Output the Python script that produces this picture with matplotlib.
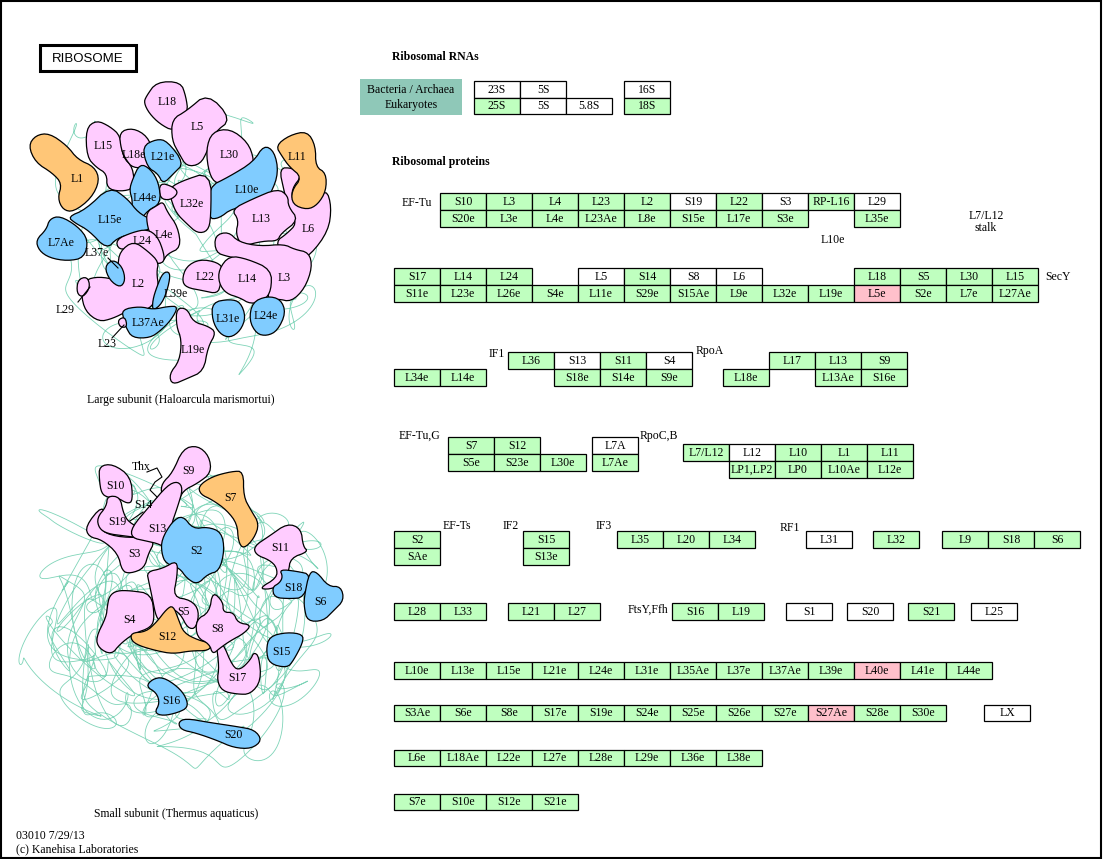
import numpy as np
import matplotlib.pyplot as plt
from matplotlib.patches import Rectangle, Polygon

plt.rcParams['font.family'] = ['Liberation Serif', 'DejaVu Serif']

GREEN = '#bfffbf'
PINK = '#ffc0cb'
FILL = {'g': GREEN, 'w': 'white', 'p': PINK}
BLOB = {'pk': '#ffccff', 'bl': '#80ccff', 'or': '#ffc677'}
TANGLE = '#7fd4b8'

# ---- gene boxes: labels and state (g = green, w = white, p = pink, - = none)
rna_top = ['23S', '5S']
rna_top_st = 'ww'
rna_bot = ['25S', '5S', '5.8S']
rna_bot_st = 'gww'
rna_16s = ['16S']
rna_18s = ['18S']

eftu_top = ['S10', 'L3', 'L4', 'L23', 'L2', 'S19', 'L22', 'S3', 'RP-L16', 'L29']
eftu_top_st = 'gggggwgwgw'
eftu_bot = ['S20e', 'L3e', 'L4e', 'L23Ae', 'L8e', 'S15e', 'L17e', 'S3e', '', 'L35e']
eftu_bot_st = 'gggggggg-g'

secy_top = ['S17', 'L14', 'L24', '', 'L5', 'S14', 'S8', 'L6', '', '', 'L18', 'S5', 'L30', 'L15']
secy_top_st = 'ggg-wgww--gggg'
secy_bot = ['S11e', 'L23e', 'L26e', 'S4e', 'L11e', 'S29e', 'S15Ae', 'L9e', 'L32e', 'L19e',
            'L5e', 'S2e', 'L7e', 'L27Ae']
secy_bot_st = 'ggggggggggpggg'

l34e_row = ['L34e', 'L14e']
if1_top = ['L36', 'S13', 'S11', 'S4']
if1_top_st = 'gwgw'
if1_bot = ['', 'S18e', 'S14e', 'S9e']
rpoa_top = ['', 'L17', 'L13', 'S9']
rpoa_bot = ['L18e', '', 'L13Ae', 'S16e']

eftug_top = ['S7', 'S12']
eftug_bot = ['S5e', 'S23e', 'L30e']
l7a_top = ['L7A']
l7a_bot = ['L7Ae']
stalk_top = ['L7/L12', 'L12', 'L10', 'L1', 'L11']
stalk_top_st = 'gwggg'
stalk_bot = ['', 'LP1,LP2', 'LP0', 'L10Ae', 'L12e']

efts_top, efts_bot = ['S2'], ['SAe']
if2_top, if2_bot = ['S15'], ['S13e']
if3_row = ['L35', 'L20', 'L34']
rf1_row = ['L31']
l32_row = ['L32']
l9_row = ['L9', 'S18', 'S6']

l28_row = ['L28', 'L33']
l21_row = ['L21', 'L27']
ftsy_row = ['S16', 'L19']
s1_row = ['S1']
s20_row = ['S20']
s21_row = ['S21']
l25_row = ['L25']

large_e = ['L10e', 'L13e', 'L15e', 'L21e', 'L24e', 'L31e', 'L35Ae', 'L37e', 'L37Ae',
           'L39e', 'L40e', 'L41e', 'L44e']
large_e_st = 'ggggggggggpgg'
small_e = ['S3Ae', 'S6e', 'S8e', 'S17e', 'S19e', 'S24e', 'S25e', 'S26e', 'S27e',
           'S27Ae', 'S28e', 'S30e']
small_e_st = 'gggggggggpgg'
lx_row = ['LX']
large_e2 = ['L6e', 'L18Ae', 'L22e', 'L27e', 'L28e', 'L29e', 'L36e', 'L38e']
small_e2 = ['S7e', 'S10e', 'S12e', 'S21e']

# ---- subunit illustration: blob outlines (pixel space), colour key, label
large_blobs = [
    ('L1', 'or', (77, 179), [(30, 147), (37, 137), (50, 135), (67, 147), (77, 160), (93, 167), (98, 180),
                             (90, 197), (73, 210), (63, 208), (58, 197), (62, 183), (53, 173), (37, 163)]),
    ('L15', 'pk', (103, 146), [(87, 130), (97, 122), (110, 128), (120, 137), (122, 157), (132, 167),
                               (133, 187), (120, 190), (107, 187), (107, 173), (97, 167), (88, 157)]),
    ('L18e', 'pk', (134, 155), [(120, 133), (133, 129), (147, 137), (153, 153), (157, 170), (147, 167),
                                (133, 167), (127, 160), (122, 150)]),
    ('L18', 'pk', (167, 102), [(147, 97), (157, 83), (180, 83), (185, 97), (187, 112), (177, 120),
                               (173, 130), (160, 123), (150, 113), (145, 103)]),
    ('L5', 'pk', (197, 127), [(173, 120), (187, 112), (207, 95), (230, 120), (213, 133), (207, 150),
                              (200, 163), (187, 165), (180, 153), (173, 140)]),
    ('L30', 'pk', (229, 155), [(207, 150), (213, 133), (230, 130), (247, 143), (253, 160), (250, 172),
                               (230, 180), (217, 183), (210, 173)]),
    ('L21e', 'bl', (163, 157), [(143, 147), (157, 140), (167, 142), (183, 163), (173, 173), (163, 183),
                                (158, 173), (148, 167)]),
    ('L10e', 'bl', (247, 190), [(210, 187), (230, 177), (253, 163), (263, 147), (273, 153), (277, 173),
                                (270, 193), (260, 203), (233, 207), (220, 217), (210, 217)]),
    ('L6', 'pk', (308, 229), [(280, 170), (293, 170), (302, 177), (292, 190), (293, 203), (305, 208),
                              (313, 203), (325, 190), (330, 207), (327, 230), (310, 253), (293, 262),
                              (283, 253), (277, 240), (287, 233), (297, 223), (290, 213), (285, 193)]),
    ('L11', 'or', (297, 157), [(277, 147), (290, 137), (307, 133), (315, 147), (315, 167), (325, 173),
                               (325, 190), (317, 203), (307, 208), (293, 203), (292, 190), (302, 177),
                               (290, 167), (283, 157)]),
    ('L13', 'pk', (261, 219), [(233, 210), (253, 200), (277, 190), (287, 197), (287, 207), (297, 220),
                               (280, 233), (277, 240), (263, 240), (243, 245), (237, 233), (240, 220)]),
    ('L32e', 'pk', (192, 204), [(170, 190), (180, 183), (210, 173), (210, 217), (207, 230), (197, 232),
                                (187, 223), (177, 213), (172, 200)]),
    ('', 'pk', None, [(160, 183), (173, 187), (178, 193), (170, 200), (160, 198)]),
    ('L44e', 'bl', (145, 198), [(133, 180), (140, 165), (150, 170), (158, 183), (160, 203), (147, 210),
                                (140, 220), (132, 213), (133, 200), (130, 190)]),
    ('L15e', 'bl', (110, 220), [(70, 217), (87, 210), (110, 188), (127, 200), (137, 213), (150, 220),
                                (153, 227), (133, 233), (117, 237), (107, 248), (90, 230), (77, 223)]),
    ('L7Ae', 'bl', (61, 243), [(37, 240), (47, 230), (50, 220), (60, 217), (77, 227), (87, 240),
                               (83, 257), (67, 260), (50, 257), (40, 250)]),
    ('L4e', 'pk', (164, 235), [(147, 213), (157, 207), (163, 203), (167, 213), (177, 227), (180, 247),
                               (167, 253), (163, 260), (157, 263), (153, 253), (153, 240), (148, 227)]),
    ('L24', 'pk', (142, 241), [(117, 240), (133, 233), (147, 230), (157, 237), (163, 253), (163, 262),
                               (153, 263), (143, 253), (133, 247), (120, 250)]),
    ('L2', 'pk', (138, 284), [(120, 253), (133, 243), (147, 253), (157, 263), (155, 273), (157, 287),
                              (153, 303), (143, 310), (127, 310), (113, 317), (100, 320), (87, 310),
                              (83, 293), (87, 280), (100, 277), (117, 280), (118, 267)]),
    ('', 'bl', None, [(105, 267), (113, 260), (122, 267), (125, 280), (120, 287), (110, 280)]),
    ('', 'pk', None, [(78, 280), (87, 277), (90, 287), (83, 297), (77, 293)]),
    ('', 'bl', None, [(157, 287), (163, 273), (170, 273), (168, 287), (162, 303), (153, 310), (153, 300)]),
    ('L37Ae', 'bl', (148, 323), [(123, 310), (140, 307), (153, 310), (167, 307), (177, 307), (170, 320),
                                 (160, 330), (150, 337), (133, 337), (127, 327), (125, 320)]),
    ('', 'pk', None, [(118, 320), (125, 317), (127, 327), (120, 327)]),
    ('L19e', 'pk', (193, 350), [(177, 310), (187, 310), (193, 323), (207, 327), (215, 333), (207, 347),
                                (203, 370), (187, 377), (173, 383), (170, 373), (180, 360), (182, 340),
                                (177, 327)]),
    ('L22', 'pk', (205, 277), [(187, 267), (200, 260), (217, 263), (223, 270), (220, 283), (217, 293),
                               (203, 290), (187, 287), (183, 280)]),
    ('L3', 'pk', (284, 278), [(217, 237), (230, 233), (240, 243), (260, 247), (283, 245), (293, 250),
                              (307, 253), (310, 267), (303, 287), (290, 300), (277, 297), (267, 300),
                              (270, 273), (247, 260), (230, 257), (218, 253)]),
    ('L14', 'pk', (247, 279), [(220, 270), (230, 257), (247, 260), (270, 270), (270, 290), (263, 300),
                               (250, 303), (240, 297), (227, 293), (220, 283)]),
    ('L31e', 'bl', (228, 319), [(213, 303), (230, 300), (240, 303), (245, 317), (240, 330), (230, 337),
                                (220, 333), (213, 320)]),
    ('L24e', 'bl', (266, 316), [(253, 303), (267, 297), (280, 300), (285, 313), (277, 330), (267, 335),
                                (257, 333), (250, 320)]),
]
large_free_labels = [('L37e', (97, 253)), ('L39e', (176, 294)), ('L29', (65, 310)), ('L23', (107, 344))]
large_leaders = [[(78, 302), (90, 287)], [(112, 338), (124, 325)], [(108, 258), (118, 268)]]

small_blobs = [
    ('S10', 'pk', (115, 486), [(100, 467), (113, 465), (130, 477), (132, 500), (127, 503), (117, 497),
                               (108, 497), (102, 493), (100, 480)]),
    ('S9', 'pk', (188, 471), [(163, 483), (173, 473), (183, 450), (197, 447), (208, 457), (210, 473),
                              (197, 483), (183, 490), (178, 502), (170, 502), (162, 493)]),
    ('S3', 'pk', (134, 554), [(87, 527), (103, 507), (107, 520), (100, 530), (115, 537), (143, 538),
                              (153, 542), (147, 553), (143, 567), (130, 572), (122, 570), (118, 553),
                              (103, 540), (90, 537)]),
    ('S19', 'pk', (117, 522), [(98, 518), (107, 507), (108, 497), (120, 498), (123, 513), (128, 522),
                               (143, 530), (147, 538), (123, 535), (108, 533), (100, 528)]),
    ('S13', 'pk', (157, 529), [(133, 527), (150, 507), (167, 487), (177, 483), (182, 490), (177, 507),
                               (170, 527), (173, 540), (170, 550), (160, 543), (147, 540), (133, 537)]),
    ('S7', 'or', (230, 498), [(200, 487), (213, 478), (232, 473), (243, 473), (243, 497), (250, 510),
                              (258, 523), (253, 537), (243, 547), (238, 540), (237, 523), (227, 510),
                              (213, 500), (202, 495)]),
    ('S2', 'bl', (196, 551), [(163, 540), (173, 523), (183, 517), (193, 530), (207, 528), (220, 533),
                              (223, 550), (218, 570), (207, 573), (197, 583), (187, 577), (180, 567),
                              (167, 563), (163, 553)]),
    ('S11', 'pk', (280, 548), [(255, 547), (270, 537), (287, 525), (300, 530), (302, 547), (307, 552),
                               (290, 558), (288, 572), (282, 583), (270, 588), (260, 587), (277, 577),
                               (277, 567), (270, 560), (257, 555)]),
    ('S18', 'bl', (293, 588), [(280, 570), (297, 572), (310, 575), (303, 597), (290, 598), (275, 597),
                               (273, 587), (280, 583), (283, 577)]),
    ('S6', 'bl', (320, 602), [(310, 573), (317, 573), (328, 587), (340, 587), (343, 600), (333, 610),
                              (323, 620), (308, 620), (305, 607), (305, 597)]),
    ('S4', 'pk', (129, 620), [(110, 597), (117, 592), (130, 592), (150, 595), (153, 617), (150, 627),
                              (133, 633), (120, 643), (112, 653), (100, 647), (97, 637), (107, 617),
                              (108, 607)]),
    ('S5', 'pk', (184, 612), [(148, 573), (163, 570), (177, 562), (177, 577), (173, 597), (190, 600),
                              (198, 610), (195, 627), (187, 627), (180, 613), (170, 607), (162, 620),
                              (157, 617), (153, 597), (150, 583)]),
    ('S12', 'or', (167, 637), [(133, 633), (147, 632), (157, 623), (167, 610), (173, 607), (178, 620),
                               (183, 633), (197, 640), (210, 643), (207, 650), (190, 650), (173, 653),
                               (157, 650), (140, 645), (133, 640)]),
    ('S17', 'pk', (237, 678), [(217, 643), (223, 643), (233, 667), (240, 670), (250, 660), (253, 653),
                               (258, 657), (260, 680), (250, 693), (237, 693), (223, 690), (218, 680),
                               (220, 667)]),
    ('S8', 'pk', (218, 629), [(197, 620), (210, 613), (213, 593), (223, 603), (223, 613), (233, 613),
                              (237, 623), (250, 625), (243, 633), (230, 640), (220, 647), (213, 653),
                              (210, 643), (198, 637)]),
    ('S15', 'bl', (281, 652), [(270, 637), (287, 633), (302, 635), (302, 643), (293, 660), (287, 667),
                               (270, 663), (267, 650)]),
    ('S16', 'bl', (171, 701), [(147, 687), (153, 680), (163, 678), (177, 687), (185, 697), (187, 707),
                               (177, 712), (163, 715), (155, 712), (160, 703), (157, 693)]),
    ('S20', 'bl', (233, 735), [(180, 723), (187, 719), (210, 723), (237, 727), (253, 730), (260, 740),
                               (250, 748), (233, 747), (217, 740), (197, 733), (183, 730)]),
]
small_free_labels = [('Thx', (141, 467)), ('S14', (143, 505))]
small_leaders = [[(147, 472), (157, 468), (162, 477), (155, 482), (150, 490), (157, 497)],
                 [(130, 521), (143, 512)]]


def smooth(pts, n=2, grow=1.05):
    p = np.asarray(pts, float)
    c = p.mean(axis=0)
    p = c + (p - c) * grow
    for _ in range(n):
        q = np.roll(p, -1, axis=0)
        out = np.empty((2 * len(p), 2))
        out[0::2] = 0.75 * p + 0.25 * q
        out[1::2] = 0.25 * p + 0.75 * q
        p = out
    return p


def tangle(ax, cx, cy, rx, ry, fx, fy, ph, push=0.65):
    t = np.linspace(0, 2 * np.pi, 3000)
    amps = [0.34, 0.24, 0.17, 0.12, 0.08, 0.05]
    u = sum(a * np.sin(f * t + ph + k) for k, (a, f) in enumerate(zip(amps, fx)))
    v = sum(a * np.cos(f * t + 2 * ph - k) for k, (a, f) in enumerate(zip(amps, fy)))
    r = np.hypot(u, v) + 1e-9
    s = r ** (push - 1)
    ax.plot(cx + rx * u * s, cy + ry * v * s, color=TANGLE, lw=0.6, zorder=1)


def box(ax, x, y, label, state, w=46, h=17):
    ax.add_patch(Rectangle((x, y), w, h, facecolor=FILL[state], edgecolor='black',
                           lw=0.9, zorder=3))
    ax.text(x + w / 2, y + h / 2 + 0.5, label, ha='center', va='center', fontsize=8.5, zorder=4)


def row(ax, x0, y0, labels, states=None, w=46, h=17):
    for i, lab in enumerate(labels):
        if lab:
            st = states[i] if states else 'g'
            box(ax, x0 + i * w, y0, lab, st, w, h)


def pair(ax, x0, y0, top, bot, top_st=None, bot_st=None):
    row(ax, x0, y0, top, top_st)
    row(ax, x0, y0 + 17, bot, bot_st)


fig = plt.figure(figsize=(11.03, 8.59), dpi=100)
ax = fig.add_axes([0, 0, 1, 1])
ax.set_xlim(0, 1103)
ax.set_ylim(859, 0)
ax.axis('off')

# frame and title box
ax.add_patch(Rectangle((0.5, 0.5), 1100.5, 857, fill=False, edgecolor='black', lw=1.5))
ax.add_patch(Rectangle((40, 45), 96, 26, fill=False, edgecolor='black', lw=2.2))
ax.text(88, 59, 'RIBOSOME', ha='center', va='center', fontsize=9.5, family='Liberation Sans')

# subunit illustrations: tangled rRNA traces behind the protein blobs
tangle(ax, 190, 240, 160, 152, (2, 7, 13, 29, 53, 97), (3, 8, 17, 31, 59, 89), 0.3)
tangle(ax, 175, 612, 180, 172, (2, 7, 13, 29, 53, 97), (3, 8, 17, 31, 59, 89), 2.2)
tangle(ax, 185, 612, 160, 165, (3, 5, 19, 37, 61, 83), (2, 11, 23, 41, 67, 101), 0.9)

for blobs in (large_blobs, small_blobs):
    for name, col, lab_xy, pts in blobs:
        ax.add_patch(Polygon(smooth(pts), closed=True, facecolor=BLOB[col],
                             edgecolor='black', lw=0.9, zorder=2))
        if name:
            ax.text(lab_xy[0], lab_xy[1], name, ha='center', va='center', fontsize=8.5, zorder=5)

for name, (x, y) in large_free_labels + small_free_labels:
    ax.text(x, y, name, ha='center', va='center', fontsize=8.5, zorder=5)
for seg in large_leaders + small_leaders:
    xs, ys = zip(*seg)
    ax.plot(xs, ys, color='black', lw=0.8, zorder=5)

ax.text(181, 400, 'Large subunit (Haloarcula marismortui)', ha='center', va='center', fontsize=8.5)
ax.text(176, 814, 'Small subunit (Thermus aquaticus)', ha='center', va='center', fontsize=8.5)
ax.text(16, 836, '03010 7/29/13', ha='left', va='center', fontsize=8.5)
ax.text(16, 849, '(c) Kanehisa Laboratories', ha='left', va='center', fontsize=8.5)

# ribosomal RNAs
ax.text(392, 57, 'Ribosomal RNAs', ha='left', va='center', fontsize=8.5, fontweight='bold')
ax.add_patch(Rectangle((360, 79), 102, 36, facecolor='#8fc8b8', edgecolor='none'))
ax.text(411, 90, 'Bacteria / Archaea', ha='center', va='center', fontsize=8.5)
ax.text(411, 105, 'Eukaryotes', ha='center', va='center', fontsize=8.5)
row(ax, 474, 81, rna_top, rna_top_st, h=16.5)
row(ax, 474, 97.5, rna_bot, rna_bot_st, h=16.5)
row(ax, 624, 81, rna_16s, 'w', h=16.5)
row(ax, 624, 97.5, rna_18s, 'g', h=16.5)

# ribosomal proteins
ax.text(392, 162, 'Ribosomal proteins', ha='left', va='center', fontsize=8.5, fontweight='bold')

ax.text(402, 203, 'EF-Tu', ha='left', va='center', fontsize=8.5)
pair(ax, 440, 193, eftu_top, eftu_bot, eftu_top_st, eftu_bot_st)
ax.text(833, 240, 'L10e', ha='center', va='center', fontsize=8.5)
ax.text(986, 216, 'L7/L12', ha='center', va='center', fontsize=8.5)
ax.text(986, 228, 'stalk', ha='center', va='center', fontsize=8.5)

pair(ax, 394, 268, secy_top, secy_bot, secy_top_st, secy_bot_st)
ax.text(1045, 277, 'SecY', ha='left', va='center', fontsize=8.5)

row(ax, 394, 369, l34e_row)
ax.text(505, 354, 'IF1', ha='right', va='center', fontsize=8.5)
pair(ax, 508, 352, if1_top, if1_bot, if1_top_st)
ax.text(696, 351, 'RpoA', ha='left', va='center', fontsize=8.5)
pair(ax, 723, 352, rpoa_top, rpoa_bot)

ax.text(399, 436, 'EF-Tu,G', ha='left', va='center', fontsize=8.5)
pair(ax, 448, 437, eftug_top, eftug_bot)
pair(ax, 592, 437, l7a_top, l7a_bot, 'w')
ax.text(640, 436, 'RpoC,B', ha='left', va='center', fontsize=8.5)
pair(ax, 683, 444, stalk_top, stalk_bot, stalk_top_st)

pair(ax, 394, 531, efts_top, efts_bot)
ax.text(443, 526, 'EF-Ts', ha='left', va='center', fontsize=8.5)
ax.text(503, 526, 'IF2', ha='left', va='center', fontsize=8.5)
pair(ax, 523, 531, if2_top, if2_bot)
ax.text(596, 526, 'IF3', ha='left', va='center', fontsize=8.5)
row(ax, 617, 531, if3_row)
ax.text(780, 528, 'RF1', ha='left', va='center', fontsize=8.5)
row(ax, 806, 531, rf1_row, 'w')
row(ax, 873, 531, l32_row)
row(ax, 942, 531, l9_row)

row(ax, 394, 603, l28_row)
row(ax, 508, 603, l21_row)
ax.text(668, 610, 'FtsY,Ffh', ha='right', va='center', fontsize=8.5)
row(ax, 672, 603, ftsy_row)
row(ax, 786, 603, s1_row, 'w')
row(ax, 847, 603, s20_row, 'w')
row(ax, 908, 603, s21_row)
row(ax, 971, 603, l25_row, 'w')

row(ax, 394, 662, large_e, large_e_st, h=16.5)
row(ax, 394, 704.5, small_e, small_e_st, h=16.5)
row(ax, 984, 704.5, lx_row, 'w', h=16.5)
row(ax, 394, 749.5, large_e2, h=16.5)
row(ax, 394, 793.5, small_e2, h=16.5)

fig.savefig('out.png', dpi=100)
